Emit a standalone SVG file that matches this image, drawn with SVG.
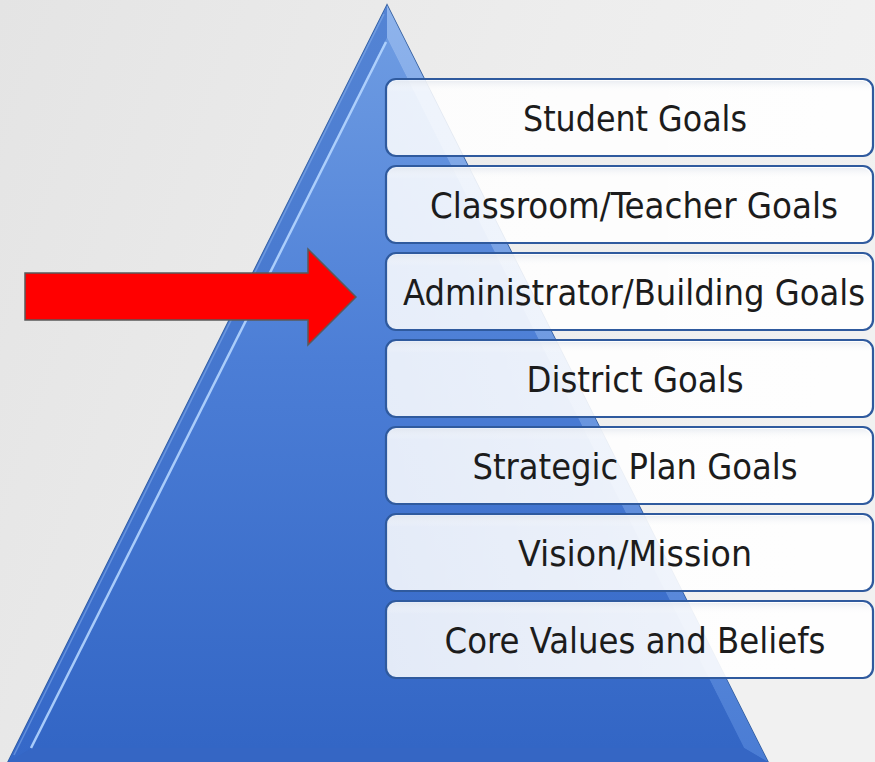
<svg xmlns="http://www.w3.org/2000/svg" width="875" height="762" viewBox="0 0 875 762">
  <defs>
    <linearGradient id="bg" x1="0" y1="0" x2="1" y2="0.3">
      <stop offset="0" stop-color="#e4e4e4"/>
      <stop offset="0.6" stop-color="#ededed"/>
      <stop offset="1" stop-color="#f1f1f1"/>
    </linearGradient>
    <linearGradient id="face" x1="0" y1="0" x2="0" y2="1">
      <stop offset="0" stop-color="#6d9be2"/>
      <stop offset="0.45" stop-color="#4c7ed6"/>
      <stop offset="1" stop-color="#3366c5"/>
    </linearGradient>
    <linearGradient id="bevelL" x1="0" y1="0" x2="0" y2="1">
      <stop offset="0" stop-color="#5484d4"/>
      <stop offset="1" stop-color="#3568c8"/>
    </linearGradient>
    <linearGradient id="bevelR" x1="0" y1="0" x2="0" y2="1">
      <stop offset="0" stop-color="#8fb4ec"/>
      <stop offset="1" stop-color="#4a7cd4"/>
    </linearGradient>
    <linearGradient id="boxFill" x1="0" y1="0" x2="1" y2="0">
      <stop offset="0" stop-color="#ffffff" stop-opacity="0.86"/>
      <stop offset="0.5" stop-color="#ffffff" stop-opacity="0.9"/>
      <stop offset="1" stop-color="#ffffff" stop-opacity="0.94"/>
    </linearGradient>
    <linearGradient id="boxShade" x1="0" y1="0" x2="0" y2="1">
      <stop offset="0" stop-color="#dfe4ec" stop-opacity="0.6"/>
      <stop offset="0.15" stop-color="#ffffff" stop-opacity="0"/>
      <stop offset="1" stop-color="#ffffff" stop-opacity="0"/>
    </linearGradient>
    <style>
      .box { fill: url(#boxFill); stroke: #2f5a9e; stroke-width: 2.2; }
      .label { font-family: "DejaVu Sans Condensed", "Liberation Sans Narrow", "Liberation Sans", sans-serif; font-stretch: condensed; font-size: 36px; fill: #1c1c1c; }
    </style>
  </defs>

  <!-- background -->
  <rect x="0" y="0" width="875" height="762" fill="url(#bg)"/>

  <!-- pyramid -->
  <g id="pyramid">
    <polygon points="387,5 8,762 768,762" fill="url(#face)" stroke="#2e5a9c" stroke-width="1.5"/>
    <polygon points="387,5 8,762 32,748 387,38" fill="url(#bevelL)"/>
    <polygon points="387,5 768,762 744,748 387,38" fill="url(#bevelR)"/>
    <polygon points="8,762 768,762 744,748 32,748" fill="#3566c4"/>
    <polygon points="387,38 32,748 744,748" fill="url(#face)"/>
    <line x1="386" y1="42" x2="31" y2="748" stroke="#b5d6ff" stroke-width="2.5" opacity="0.9"/>
    <line x1="384" y1="14" x2="14" y2="755" stroke="#8fb6ee" stroke-width="1.5" opacity="0.5"/>
  </g>

  <!-- connector -->
  <g id="connectors">
    <polygon id="arrow" points="25,273 308,273 308,249 356,297 308,345 308,320 25,320" fill="#ff0000" stroke="#5a5a5a" stroke-width="1.5" stroke-linejoin="miter"/>
  </g>

  <!-- goal levels -->
  <g id="student-goals">
    <rect class="box" x="386" y="79" width="487" height="77" rx="10"/>
    <rect x="388" y="81" width="483" height="73" rx="9" fill="url(#boxShade)"/>
    <text class="label" x="635" y="131" text-anchor="middle" textLength="224" lengthAdjust="spacingAndGlyphs">Student Goals</text>
  </g>
  <g id="classroom-teacher-goals">
    <rect class="box" x="386" y="166" width="487" height="77" rx="10"/>
    <rect x="388" y="168" width="483" height="73" rx="9" fill="url(#boxShade)"/>
    <text class="label" x="634" y="218" text-anchor="middle" textLength="408" lengthAdjust="spacingAndGlyphs">Classroom/Teacher Goals</text>
  </g>
  <g id="administrator-building-goals">
    <rect class="box" x="386" y="253" width="487" height="77" rx="10"/>
    <rect x="388" y="255" width="483" height="73" rx="9" fill="url(#boxShade)"/>
    <text class="label" x="634" y="305" text-anchor="middle" textLength="462" lengthAdjust="spacingAndGlyphs">Administrator/Building Goals</text>
  </g>
  <g id="district-goals">
    <rect class="box" x="386" y="340" width="487" height="77" rx="10"/>
    <rect x="388" y="342" width="483" height="73" rx="9" fill="url(#boxShade)"/>
    <text class="label" x="635" y="392" text-anchor="middle" textLength="217" lengthAdjust="spacingAndGlyphs">District Goals</text>
  </g>
  <g id="strategic-plan-goals">
    <rect class="box" x="386" y="427" width="487" height="77" rx="10"/>
    <rect x="388" y="429" width="483" height="73" rx="9" fill="url(#boxShade)"/>
    <text class="label" x="635" y="479" text-anchor="middle" textLength="325" lengthAdjust="spacingAndGlyphs">Strategic Plan Goals</text>
  </g>
  <g id="vision-mission">
    <rect class="box" x="386" y="514" width="487" height="77" rx="10"/>
    <rect x="388" y="516" width="483" height="73" rx="9" fill="url(#boxShade)"/>
    <text class="label" x="635" y="566" text-anchor="middle" textLength="234" lengthAdjust="spacingAndGlyphs">Vision/Mission</text>
  </g>
  <g id="core-values-beliefs">
    <rect class="box" x="386" y="601" width="487" height="77" rx="10"/>
    <rect x="388" y="603" width="483" height="73" rx="9" fill="url(#boxShade)"/>
    <text class="label" x="635" y="653" text-anchor="middle" textLength="381" lengthAdjust="spacingAndGlyphs">Core Values and Beliefs</text>
  </g>
</svg>
